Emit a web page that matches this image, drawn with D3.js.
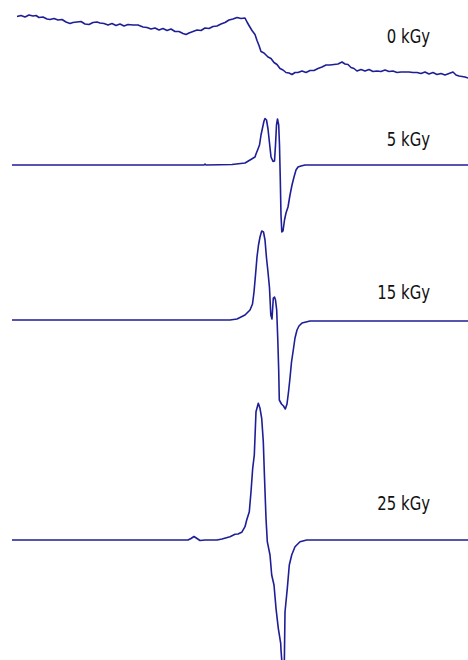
<!DOCTYPE html>
<html>
<head>
<meta charset="utf-8">
<script src="https://cdn.jsdelivr.net/npm/d3@7"></script>
<style>
  html, body { margin: 0; padding: 0; background: #fff; }
  svg { display: block; }
  .dose { font-family: "Liberation Sans Narrow", "DejaVu Sans Condensed", "Arial Narrow", sans-serif; fill: #111; }
</style>
</head>
<body>
<svg id="chart" width="468" height="660"></svg>
<script>
// ESR spectra of irradiated samples, stacked by absorbed dose
const doses = ["0 kGy", "5 kGy", "15 kGy", "25 kGy"];

// field channel / first-derivative signal, one pair per dose
const channel0 = [5, 9, 13, 17, 21, 24, 27, 31, 35, 38, 42, 46, 50, 54, 58, 61, 65, 69, 73, 77, 81, 85, 88, 92, 96, 100, 104, 108, 112, 116, 121, 126, 131, 135, 139, 143, 147, 151, 155, 159, 163, 167, 171, 174, 177, 181, 185, 189, 193, 197, 201, 205, 209, 213, 217, 221, 225, 229, 233, 235, 237, 240, 243, 245, 247, 249, 252, 256, 259, 262, 265, 268, 271, 274, 277, 280, 283, 286, 290, 294, 298, 302, 306, 310, 314, 318, 322, 326, 330, 333, 336, 339, 342, 345, 349, 353, 357, 361, 365, 369, 373, 377, 381, 385, 389, 393, 397, 401, 405, 409, 413, 417, 421, 425, 429, 433, 437, 441, 444, 447, 450, 453, 456];
const signal0 = [28.5, 29.5, 28, 30, 29, 29.5, 27.5, 28, 26, 25.5, 26.5, 25, 25.5, 23, 21.5, 22.5, 23, 23.5, 21, 20.5, 22.5, 23, 22, 21.5, 20, 21.5, 19.5, 21, 19, 20.5, 20, 20, 18, 17.5, 16, 17, 15, 16.5, 14.5, 16, 13.5, 13.5, 11.5, 10.5, 12, 13.5, 15, 14.5, 17, 16.5, 18.5, 19, 21, 22.5, 25, 26, 27.5, 26.5, 27, 23, 19.5, 14.5, 10.5, 4.5, -0.5, -6.5, -8, -12, -13.5, -17.5, -19.5, -23.5, -25, -27.5, -28, -29.5, -27.5, -27.5, -26, -27.5, -25.5, -25.5, -23.5, -22, -20, -20, -19.5, -19, -17, -19, -19.5, -22.5, -23.5, -26, -24.5, -26, -24.5, -26.5, -26, -26.5, -25, -26.5, -26, -27.5, -27, -27, -27, -27.5, -27.5, -28.5, -27, -29, -27.5, -29.5, -28.5, -30, -28.5, -27, -30, -31, -31.5, -32, -33];

const channel5 = [0, 188, 192, 193, 194, 220, 233, 238, 243, 244, 246, 247.5, 249, 250.5, 252, 253, 254.5, 256, 257.5, 259, 261, 262.5, 263.5, 264.5, 265.5, 266.7, 267.5, 268.3, 269, 269.8, 271, 272.5, 274, 276, 278, 280, 282, 284, 286, 289, 293, 456];
const signal5 = [0, 0, 0, 1, 0, 0.5, 2, 5, 8, 11, 16, 20, 30, 37, 44, 46.5, 45, 36, 22, 8, 3.5, 4, 20, 40, 46, 40, 20, -15, -50, -67, -66, -55, -48, -42, -30, -20, -12, -5, -2, -1, 0, 0];

const channel15 = [0, 218, 225, 233, 238, 240.5, 242, 243.5, 245, 246.5, 248, 249.7, 251.5, 253, 254.5, 256, 257.5, 258.8, 260, 261.3, 262.5, 263.5, 264.7, 265.8, 266.7, 267.3, 269.5, 271.5, 273.3, 275, 276.5, 278, 279.5, 281, 283, 285, 287, 290, 294, 298, 456];
const signal15 = [0, 0, 1, 5, 10, 16, 28, 45, 63, 75, 83, 89, 88, 80, 62, 48, 32, 5, 1, 22, 23, 20, 10, -20, -50, -80, -84, -86, -89, -84, -72, -58, -42, -32, -18, -10, -6, -3, -2, -1, -1];

const channel25 = [0, 176, 179, 182, 185, 188, 193, 205, 210, 218, 223, 226, 229.7, 233, 234.7, 237.3, 239, 240.7, 242.3, 244, 246.3, 248, 249.7, 251.3, 252.3, 254, 255.3, 258, 259.7, 262, 264, 266.3, 268.7, 269, 270.5, 272.3, 273, 275.3, 277.3, 279.7, 283, 288, 294.7, 456];
const signal25 = [0, 0, 1.5, 3.5, 1.5, -0.5, 0, 0, 1, 3.3, 5.7, 6, 7.7, 13.3, 20, 28.3, 48.3, 71.7, 85, 128.3, 136.7, 131.7, 121.7, 98.3, 68.3, 21.7, -1.7, -15, -35, -45, -68.3, -88.3, -103.3, -110, -130, -125, -72, -48.3, -25, -15, -6.7, -1.7, 0, 0];

const spectra = [
  d3.zip(channel0, signal0),
  d3.zip(channel5, signal5),
  d3.zip(channel15, signal15),
  d3.zip(channel25, signal25)
];

// layout
const baselineY = [45, 165, 320, 540];   // vertical offset of each trace
const labelX = 430;
const labelY = [43, 146, 299, 510];

const svg = d3.select("#chart");

const x = d3.scaleLinear().domain([0, 456]).range([12, 468]);
const amp = d3.scaleLinear().domain([-100, 100]).range([100, -100]);

const line = d3.line()
  .x(d => x(d[0]))
  .y(d => amp(d[1]))
  .curve(d3.curveLinear);

const traces = svg.selectAll("g.trace")
  .data(spectra)
  .join("g")
  .attr("class", "trace")
  .attr("transform", (d, i) => `translate(0,${baselineY[i]})`);

traces.append("path")
  .attr("d", line)
  .attr("fill", "none")
  .attr("stroke", "#1e1e96")
  .attr("stroke-width", 1.6)
  .attr("stroke-linejoin", "round");

svg.selectAll("text.dose")
  .data(doses)
  .join("text")
  .attr("class", "dose")
  .attr("text-anchor", "end")
  .attr("transform", (d, i) => `translate(${labelX},${labelY[i]}) scale(0.92,1.08)`)
  .attr("font-size", 18)
  .text(d => d);
</script>
</body>
</html>
